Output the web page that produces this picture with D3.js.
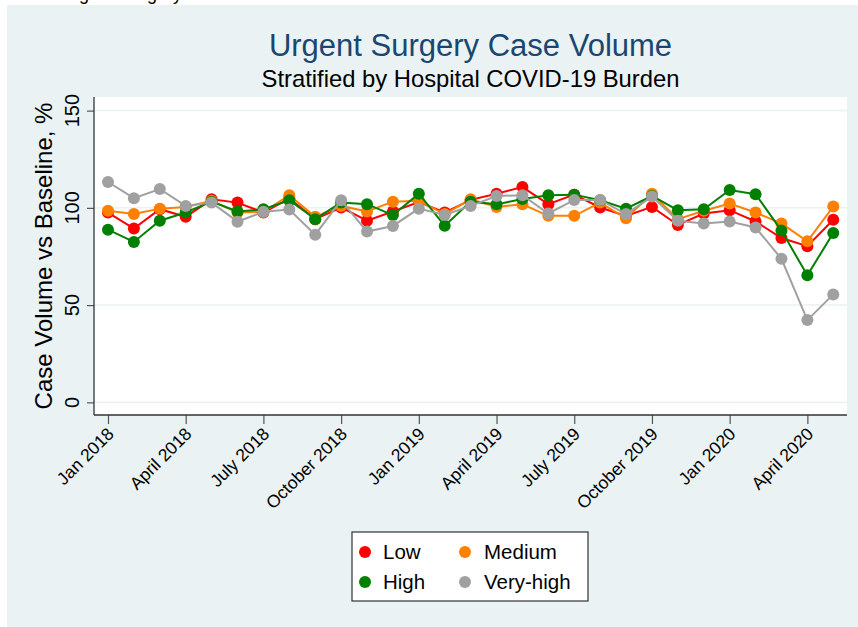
<!DOCTYPE html>
<html>
<head>
<meta charset="utf-8">
<script src="https://cdn.jsdelivr.net/npm/d3@7"></script>
<style>
  html, body { margin: 0; padding: 0; background: #ffffff; }
  svg { display: block; }
  text { font-family: "Liberation Sans", Arial, Helvetica, sans-serif; }
</style>
</head>
<body>
<svg id="chart" width="858" height="627"></svg>
<script>
// ---- data ----
const months = ["Jan 2018","Feb 2018","Mar 2018","April 2018","May 2018","June 2018","July 2018","Aug 2018","Sep 2018","October 2018","Nov 2018","Dec 2018",
  "Jan 2019","Feb 2019","Mar 2019","April 2019","May 2019","June 2019","July 2019","Aug 2019","Sep 2019","October 2019","Nov 2019","Dec 2019",
  "Jan 2020","Feb 2020","Mar 2020","April 2020","May 2020"];
const tickLabels = ["Jan 2018","April 2018","July 2018","October 2018","Jan 2019","April 2019","July 2019","October 2019","Jan 2020","April 2020"];
const yTicks = [0, 50, 100, 150];
const seriesNames = ["Low", "Medium", "High", "Very-high"];
const low      = [97.6, 89.4, 99.3, 95.4, 104.4, 102.7, 97.6, 104.9, 94.2, 100.2, 93.4, 98.1, 103.0, 97.6, 104.1, 107.3, 110.7, 101.9, 106.8, 100.2, 95.9, 100.5, 91.2, 97.1, 98.8, 93.0, 84.5, 80.3, 93.9];
const medium   = [98.5, 96.8, 99.6, 100.5, 103.6, 97.6, 98.0, 106.5, 95.4, 101.0, 98.1, 103.2, 103.6, 96.8, 104.4, 100.5, 101.8, 95.9, 95.9, 102.7, 94.6, 107.3, 94.2, 98.5, 102.2, 97.6, 92.0, 82.8, 100.7];
const high     = [88.8, 82.5, 93.4, 97.6, 103.2, 98.1, 99.3, 103.9, 94.2, 102.7, 101.9, 96.3, 107.3, 90.8, 103.2, 101.8, 104.5, 106.5, 106.8, 103.9, 99.6, 106.1, 98.8, 99.3, 109.2, 107.0, 88.3, 65.3, 87.1];
const veryHigh = [113.3, 105.0, 109.7, 101.0, 102.7, 92.9, 98.0, 99.1, 86.2, 103.9, 87.8, 90.7, 99.6, 96.3, 101.0, 106.1, 106.5, 97.1, 104.1, 104.1, 96.8, 105.8, 93.4, 92.0, 93.0, 89.9, 73.8, 42.3, 55.5];

const colors = ["#ff0000", "#ff8000", "#008000", "#a0a0a0"];
const seriesData = [low, medium, high, veryHigh];

// ---- layout ----
const svg = d3.select("#chart");
const W = 858, H = 627;
const plot = { left: 94, right: 847, top: 97, bottom: 415 };

// outer background
svg.append("rect").attr("x", 7).attr("y", 5).attr("width", W - 7).attr("height", H - 5).attr("fill", "#eaf2f3");

// cropped leftover text at very top (only its descenders are visible, as in the reference)
svg.append("text").attr("x", 60).attr("y", 0).attr("font-size", 18).attr("fill", "#000").text("Urgent Surgery");
svg.append("rect").attr("x", 7).attr("y", 5).attr("width", W - 7).attr("height", 20).attr("fill", "#eaf2f3");

// plot region
svg.append("rect").attr("x", plot.left).attr("y", plot.top)
  .attr("width", plot.right - plot.left).attr("height", plot.bottom - plot.top).attr("fill", "#ffffff");

const x = d3.scaleLinear().domain([-0.54, 28.53]).range([plot.left, plot.right]);
const y = d3.scaleLinear().domain([-6.5, 157]).range([plot.bottom, plot.top]);

// gridlines
svg.append("g").selectAll("line").data(yTicks).join("line")
  .attr("x1", plot.left).attr("x2", plot.right)
  .attr("y1", d => y(d)).attr("y2", d => y(d))
  .attr("stroke", "#eaf2f3").attr("stroke-width", 1.5);

// y axis
const yAxis = svg.append("g").attr("transform", `translate(${plot.left},0)`)
  .call(d3.axisLeft(y).tickValues(yTicks).tickSize(7).tickSizeOuter(0).tickFormat(d3.format("d")));
yAxis.select(".domain").remove();
yAxis.selectAll(".tick line").attr("stroke", "#555").attr("stroke-width", 1.2);
yAxis.selectAll(".tick text").remove();
svg.append("line").attr("x1", plot.left).attr("x2", plot.left).attr("y1", plot.top).attr("y2", plot.bottom)
  .attr("stroke", "#333").attr("stroke-width", 1.3);
svg.append("g").selectAll("text").data(yTicks).join("text")
  .attr("transform", d => `translate(79,${y(d)}) rotate(-90)`)
  .attr("text-anchor", "middle").attr("font-size", 20).attr("fill", "#000")
  .text(d => d);

// x axis
const tickIdx = tickLabels.map(t => months.indexOf(t));
const xAxis = svg.append("g").attr("transform", `translate(0,${plot.bottom})`)
  .call(d3.axisBottom(x).tickValues(tickIdx).tickSize(9).tickSizeOuter(0).tickFormat(""));
xAxis.select(".domain").remove();
xAxis.selectAll(".tick line").attr("stroke", "#555").attr("stroke-width", 1.2);
svg.append("line").attr("x1", plot.left).attr("x2", plot.right).attr("y1", plot.bottom).attr("y2", plot.bottom)
  .attr("stroke", "#333").attr("stroke-width", 1.3);
svg.append("g").selectAll("text").data(tickIdx).join("text")
  .attr("transform", d => `translate(${x(d) + 7},${plot.bottom + 20}) rotate(-45)`)
  .attr("text-anchor", "end").attr("font-size", 17.5).attr("fill", "#000")
  .text((d, i) => tickLabels[i]);

// y title
svg.append("text").attr("transform", `translate(52,${(plot.top + plot.bottom) / 2}) rotate(-90)`)
  .attr("text-anchor", "middle").attr("font-size", 24).attr("fill", "#000")
  .text("Case Volume vs Baseline, %");

// titles
svg.append("text").attr("x", (plot.left + plot.right) / 2).attr("y", 56)
  .attr("text-anchor", "middle").attr("font-size", 31).attr("fill", "#1a476f")
  .text("Urgent Surgery Case Volume");
svg.append("text").attr("x", (plot.left + plot.right) / 2).attr("y", 87)
  .attr("text-anchor", "middle").attr("font-size", 23.8).attr("fill", "#000")
  .text("Stratified by Hospital COVID-19 Burden");

// series
const line = d3.line().x((d, i) => x(i)).y(d => y(d));
seriesData.forEach((vals, s) => {
  const g = svg.append("g");
  g.append("path").datum(vals).attr("d", line).attr("fill", "none")
    .attr("stroke", colors[s]).attr("stroke-width", 2);
  g.selectAll("circle").data(vals).join("circle")
    .attr("cx", (d, i) => x(i)).attr("cy", d => y(d)).attr("r", 6)
    .attr("fill", colors[s]);
});

// legend
const lg = svg.append("g");
lg.append("rect").attr("x", 352).attr("y", 532).attr("width", 236).attr("height", 69)
  .attr("fill", "#fff").attr("stroke", "#333").attr("stroke-width", 1.2);
const legendPos = [
  { cx: 365, cy: 552, tx: 383 },
  { cx: 465, cy: 552, tx: 484 },
  { cx: 365, cy: 582, tx: 383 },
  { cx: 465, cy: 582, tx: 484 }
];
seriesNames.forEach((name, i) => {
  const p = legendPos[i];
  lg.append("circle").attr("cx", p.cx).attr("cy", p.cy).attr("r", 6).attr("fill", colors[i]);
  lg.append("text").attr("x", p.tx).attr("y", p.cy + 7).attr("font-size", 20.5).attr("fill", "#000").text(name);
});
</script>
</body>
</html>
